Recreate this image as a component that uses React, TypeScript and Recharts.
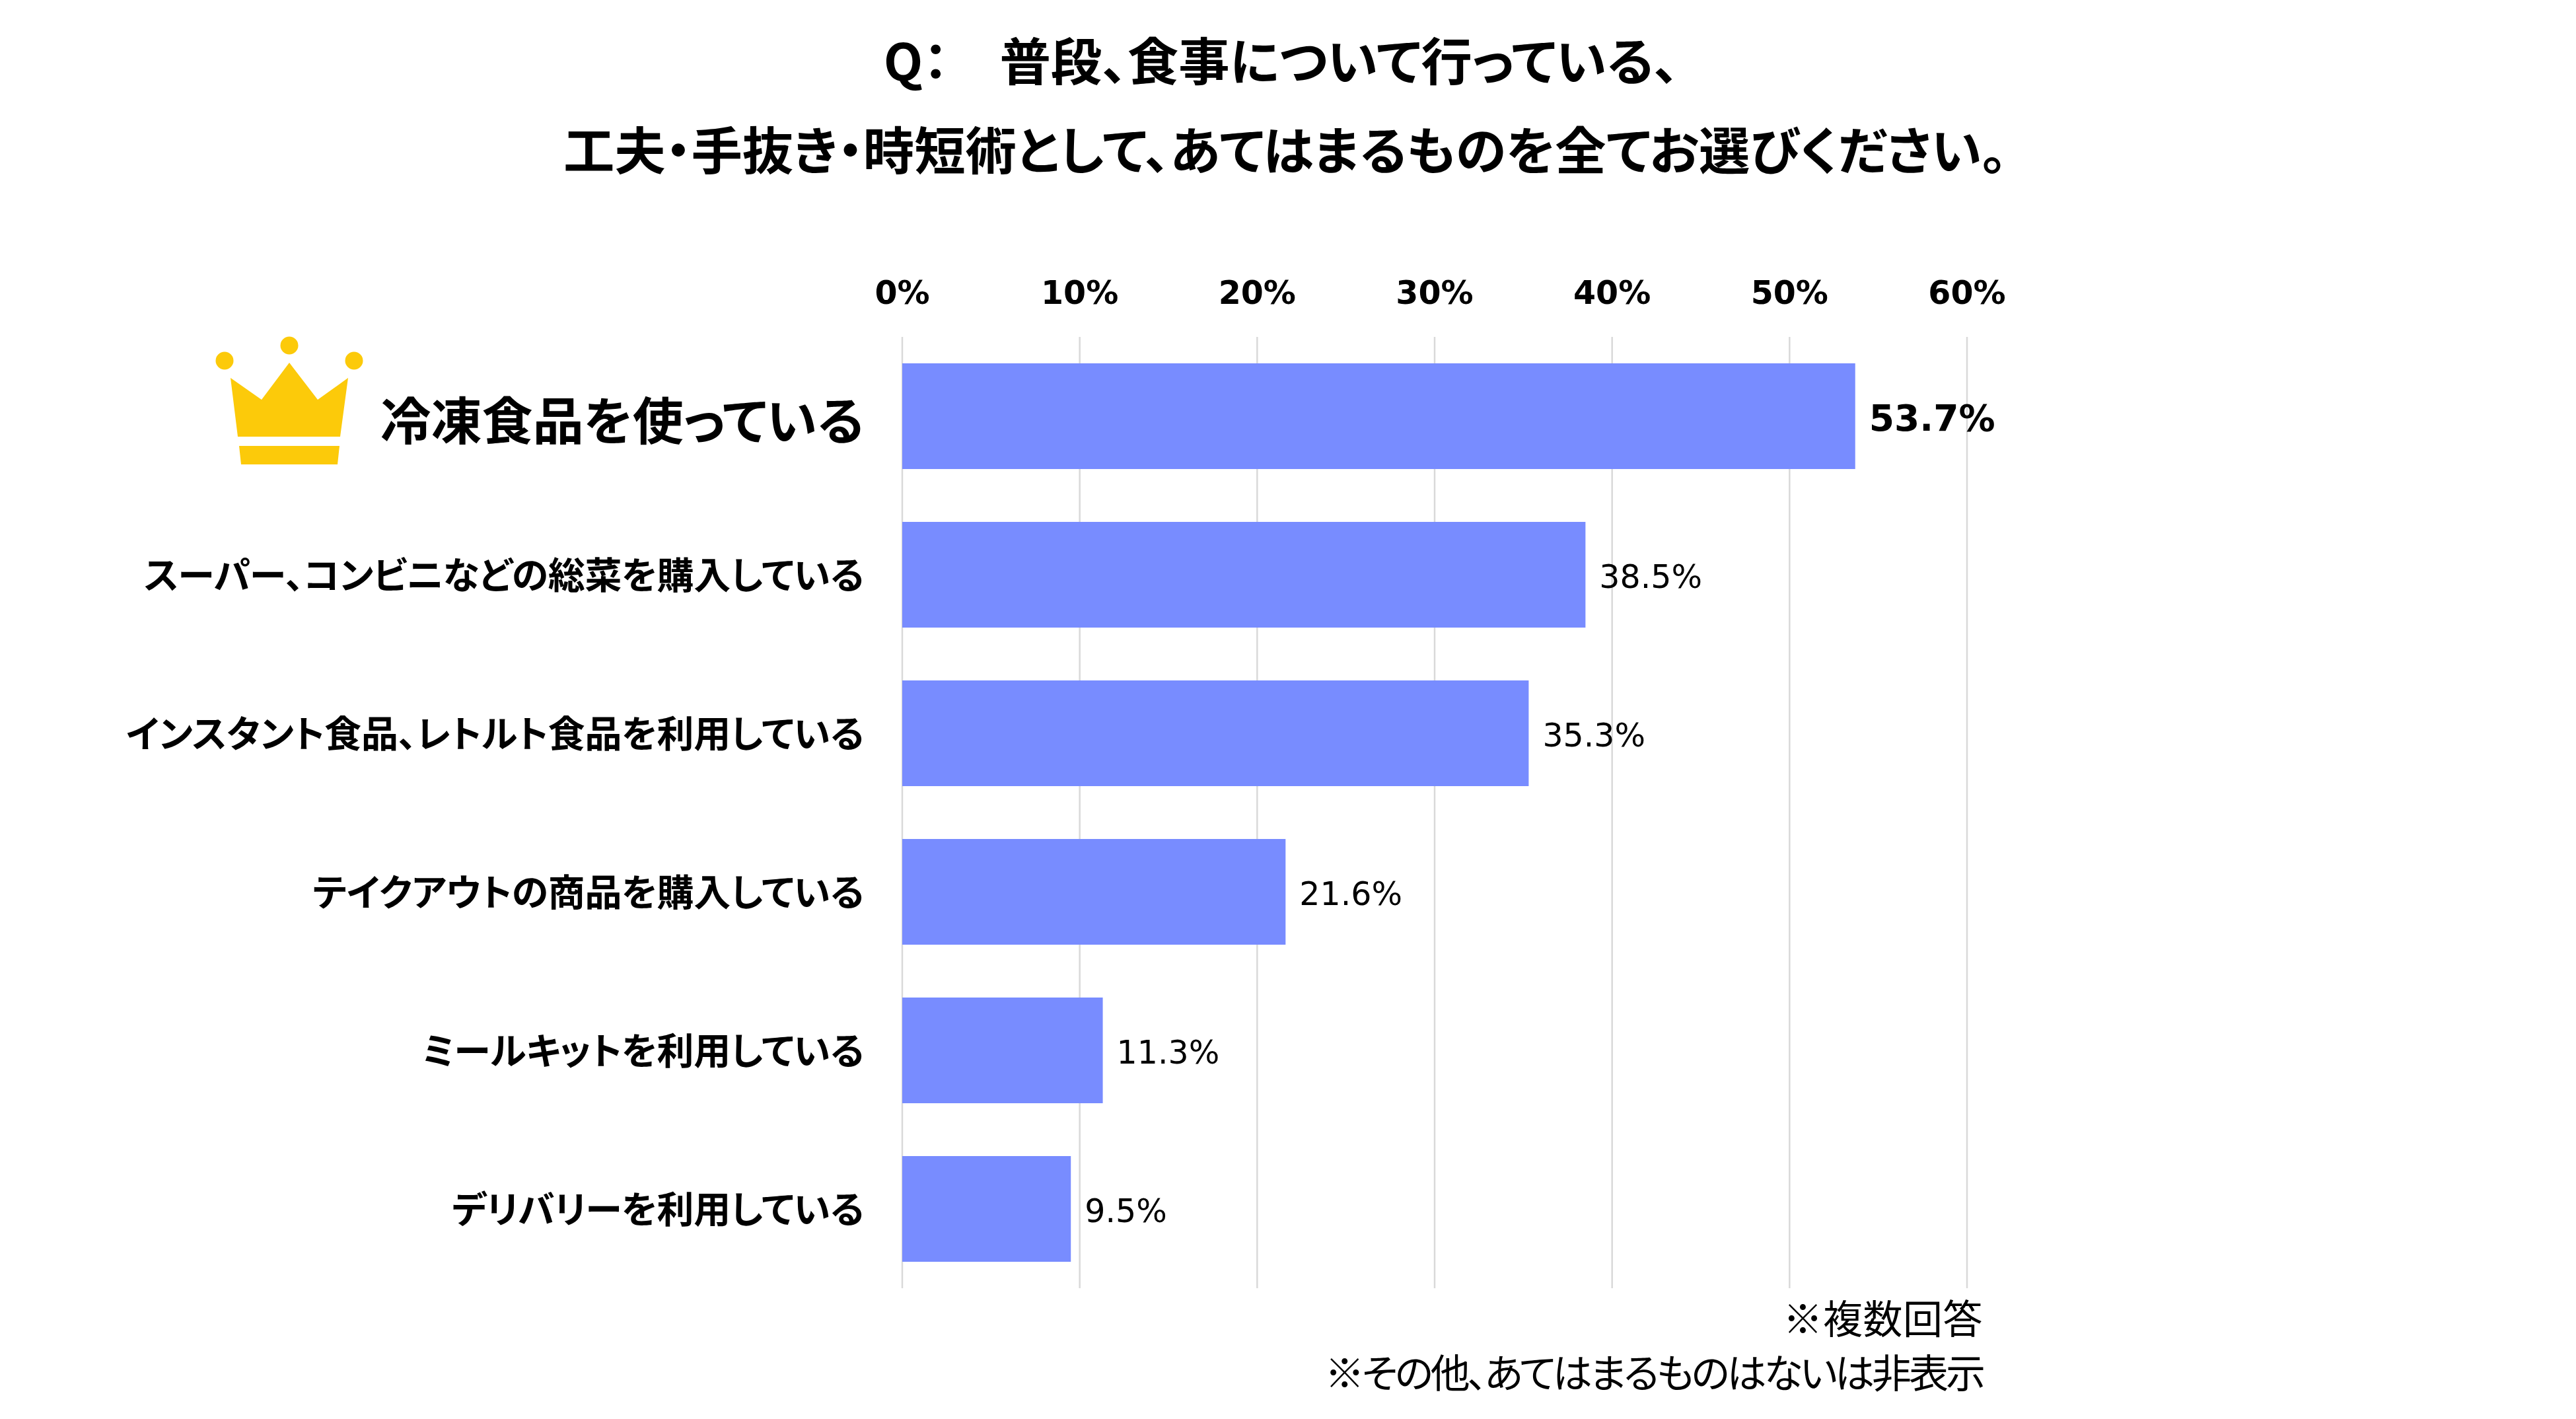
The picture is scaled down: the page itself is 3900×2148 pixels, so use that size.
import { BarChart, Bar, XAxis, YAxis, CartesianGrid, LabelList } from "recharts";

const categories = [
    "冷凍食品を使っている",
    "スーパー、コンビニなどの総菜を購入している",
    "インスタント食品、レトルト食品を利用している",
    "テイクアウトの商品を購入している",
    "ミールキットを利用している",
    "デリバリーを利用している",
];
const shares = [53.7, 38.5, 35.3, 21.6, 11.3, 9.5];
const xTicks = [0, 10, 20, 30, 40, 50, 60];
const titleLines = ["Q：　普段、食事について行っている、", "工夫・手抜き・時短術として、あてはまるものを全てお選びください。"];
const notes = ["※複数回答", "※その他、あてはまるものはないは非表示"];

const data = categories.map((name, i) => ({ name, share: shares[i] }));

const JP_FONT = '"Noto Sans CJK JP", sans-serif';
const LATIN_FONT = '"DejaVu Sans", sans-serif';

const Crown = () => (
    <g fill="#FCCA0A">
        <circle cx={340} cy={546} r={13.5} />
        <circle cx={438} cy={523} r={13.5} />
        <circle cx={536} cy={546} r={13.5} />
        <polygon points="438,549 481,605 527,572 515,661 360,661 349,572 396,605" />
        <polygon points="362,675 514,675 511,703 365,703" />
    </g>
);

const CategoryTick = ({ y, payload, index }: any) => {
    const first = index === 0;
    return (
        <g>
            {first && <Crown />}
            <text
                x={1308}
                y={y + (first ? 2 : -4)}
                textAnchor="end"
                dominantBaseline="central"
                fill="#000"
                style={{
                    fontFamily: JP_FONT,
                    fontWeight: 700,
                    fontSize: first ? 77 : 56,
                    letterSpacing: first ? 0 : -0.3,
                    fontFeatureSettings: '"palt"',
                }}
            >
                {payload.value}
            </text>
        </g>
    );
};

const ValueLabel = ({ x, y, width, height, value, index }: any) => {
    const first = index === 0;
    return (
        <text
            x={x + width + 21}
            y={y + height / 2 + 3}
            dominantBaseline="central"
            fill="#000"
            style={{ fontFamily: LATIN_FONT, fontWeight: first ? 700 : 400, fontSize: first ? 55 : 49 }}
        >
            {`${value.toFixed(1)}%`}
        </text>
    );
};

export default function App() {
    return (
        <div style={{ position: "absolute", left: 0, top: 0, width: 3900, height: 2148, background: "#fff", overflow: "hidden" }}>
            {titleLines.map((line, i) => (
                <div
                    key={line}
                    style={{
                        position: "absolute",
                        left: 0,
                        width: i === 0 ? 3880 : 3892,
                        top: 38 + i * 135,
                        textAlign: "center",
                        lineHeight: "100px",
                        whiteSpace: "nowrap",
                        fontFamily: JP_FONT,
                        fontWeight: 700,
                        fontSize: 77.4,
                        fontFeatureSettings: '"palt"',
                        color: "#000",
                    }}
                >
                    {line}
                </div>
            ))}
            <BarChart
                width={3900}
                height={2148}
                data={data}
                layout="vertical"
                barCategoryGap="16.67%"
                margin={{ top: 430, right: 922, bottom: 198, left: 0 }}
            >
                <CartesianGrid horizontal={false} stroke="#D9D9D9" strokeWidth={2.5} />
                <XAxis
                    type="number"
                    orientation="top"
                    domain={[0, 60]}
                    ticks={xTicks}
                    height={80}
                    tickLine={false}
                    axisLine={false}
                    tickMargin={44}
                    tickFormatter={(v) => `${v}%`}
                    tick={{ fill: "#000", fontFamily: LATIN_FONT, fontWeight: 700, fontSize: 49 }}
                />
                <YAxis
                    type="category"
                    dataKey="name"
                    width={1366}
                    interval={0}
                    tickLine={false}
                    axisLine={false}
                    tick={<CategoryTick />}
                />
                <Bar dataKey="share" fill="#788CFF" isAnimationActive={false}>
                    <LabelList dataKey="share" content={<ValueLabel />} />
                </Bar>
            </BarChart>
            {notes.map((line, i) => (
                <div
                    key={line}
                    style={{
                        position: "absolute",
                        right: 898,
                        top: 1948 + i * 82,
                        lineHeight: "90px",
                        whiteSpace: "nowrap",
                        fontFamily: JP_FONT,
                        fontSize: 60,
                        letterSpacing: i === 0 ? 0.5 : -4,
                        fontFeatureSettings: '"palt"',
                        color: "#000",
                    }}
                >
                    {line}
                </div>
            ))}
        </div>
    );
}
